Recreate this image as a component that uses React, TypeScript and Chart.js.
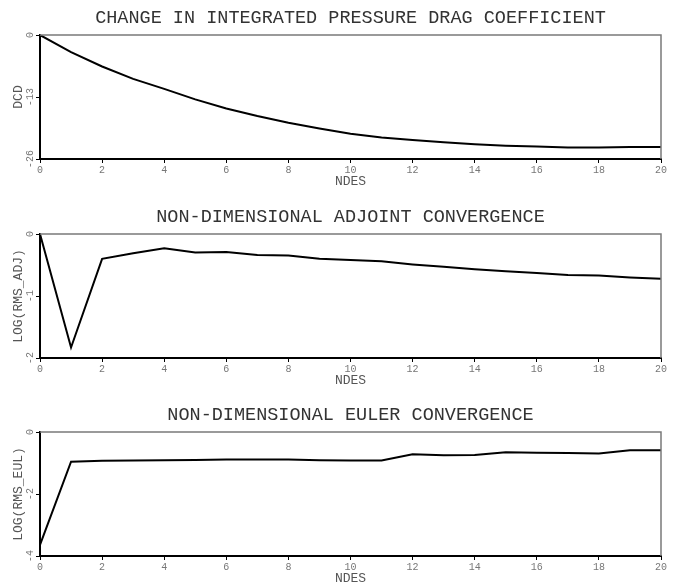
import React, { useEffect, useRef } from "react";
import { Chart, registerables } from "chart.js";

Chart.register(...registerables);

// ---- data ----
const NDES = [0, 1, 2, 3, 4, 5, 6, 7, 8, 9, 10, 11, 12, 13, 14, 15, 16, 17, 18, 19, 20];

const DCD = [0, -3.6, -6.6, -9.2, -11.3, -13.5, -15.4, -17.0, -18.4, -19.6, -20.7, -21.5, -22.0, -22.5, -22.9, -23.2, -23.4, -23.6, -23.6, -23.5, -23.5];

const RMS_ADJ = [0, -1.83, -0.40, -0.31, -0.23, -0.30, -0.29, -0.34, -0.345, -0.40, -0.42, -0.44, -0.49, -0.53, -0.57, -0.60, -0.63, -0.66, -0.67, -0.70, -0.72];

const RMS_EUL = [-3.64, -0.96, -0.93, -0.92, -0.91, -0.90, -0.89, -0.89, -0.89, -0.91, -0.92, -0.92, -0.72, -0.75, -0.74, -0.65, -0.67, -0.68, -0.69, -0.59, -0.59];

const TITLES = [
  "CHANGE IN INTEGRATED PRESSURE DRAG COEFFICIENT",
  "NON-DIMENSIONAL ADJOINT CONVERGENCE",
  "NON-DIMENSIONAL EULER CONVERGENCE",
];
const Y_TITLES = ["DCD", "LOG(RMS_ADJ)", "LOG(RMS_EUL)"];
const X_TITLE = "NDES";
const Y_RANGES = [
  { min: -26, max: 0, step: 13 },
  { min: -2, max: 0, step: 1 },
  { min: -4, max: 0, step: 2 },
];
const X_RANGE = { min: 0, max: 20, step: 2 };

const MONO = '"Liberation Mono", "DejaVu Sans Mono", monospace';

const frameAndLabels = {
  id: "frameAndLabels",
  afterDraw(chart: any) {
    const { ctx, chartArea } = chart;
    const { left, right, top, bottom } = chartArea;
    const y = chart.scales.y;
    ctx.save();
    ctx.strokeStyle = "#7a7a7a";
    ctx.lineWidth = 1.5;
    ctx.beginPath();
    ctx.moveTo(left, top);
    ctx.lineTo(right, top);
    ctx.lineTo(right, bottom);
    ctx.stroke();
    ctx.fillStyle = "#777";
    ctx.font = `10px ${MONO}`;
    ctx.textAlign = "center";
    ctx.textBaseline = "middle";
    y.ticks.forEach((t: any) => {
      const py = y.getPixelForValue(t.value);
      ctx.save();
      ctx.translate(left - 10, py);
      ctx.rotate(-Math.PI / 2);
      ctx.fillText(String(t.value), 0, 0);
      ctx.restore();
    });
    ctx.restore();
  },
};

function Panel({ idx, values, top }: { idx: number; values: number[]; top: number }) {
  const ref = useRef<HTMLCanvasElement | null>(null);
  useEffect(() => {
    if (!ref.current) return;
    const yr = Y_RANGES[idx];
    const chart = new Chart(ref.current, {
      type: "line",
      data: {
        datasets: [
          {
            data: NDES.map((x, i) => ({ x, y: values[i] })),
            borderColor: "#000",
            borderWidth: 2,
            pointRadius: 0,
            tension: 0,
            fill: false,
          },
        ],
      },
      options: {
        animation: false,
        responsive: false,
        events: [],
        layout: { padding: { top: 0, right: 14, bottom: 0, left: 0 } },
        plugins: {
          legend: { display: false },
          tooltip: { enabled: false },
          title: {
            display: true,
            text: TITLES[idx],
            fullSize: false,
            color: "#333",
            font: { family: MONO, size: 18.5, weight: "normal", lineHeight: 1.2 },
            padding: { top: 6.9, bottom: 5.9 },
          },
        },
        scales: {
          x: {
            type: "linear",
            min: X_RANGE.min,
            max: X_RANGE.max,
            afterFit: (s: any) => {
              s.height = 39;
            },
            ticks: {
              stepSize: X_RANGE.step,
              color: "#777",
              font: { family: MONO, size: 10 },
              padding: 1,
              maxRotation: 0,
              autoSkip: false,
            },
            grid: { display: true, drawOnChartArea: false, drawTicks: true, tickLength: 4, color: "#000" },
            border: { display: true, color: "#000", width: 2 },
            title: {
              display: true,
              text: X_TITLE,
              color: "#555",
              font: { family: MONO, size: 13, lineHeight: 1.2 },
              padding: { top: 0, bottom: 8.2 },
            },
          },
          y: {
            type: "linear",
            min: yr.min,
            max: yr.max,
            afterFit: (s: any) => {
              s.width = 40;
            },
            ticks: { display: false, stepSize: yr.step },
            grid: { display: true, drawOnChartArea: false, drawTicks: true, tickLength: 4, color: "#000" },
            border: { display: true, color: "#000", width: 2 },
            title: {
              display: true,
              text: Y_TITLES[idx],
              color: "#555",
              font: { family: MONO, size: 13, lineHeight: 1.2 },
              padding: { top: 11, bottom: 0 },
            },
          },
        },
      } as any,
      plugins: [frameAndLabels],
    });
    return () => chart.destroy();
  }, []);
  return (
    <canvas
      ref={ref}
      width={675}
      height={198}
      style={{ position: "absolute", left: 0, top, width: 675, height: 198 }}
    />
  );
}

export default function App() {
  return (
    <div
      style={{
        position: "absolute",
        left: 0,
        top: 0,
        width: 675,
        height: 583,
        overflow: "hidden",
        background: "#fff",
      }}
    >
      <Panel idx={0} values={DCD} top={0} />
      <Panel idx={1} values={RMS_ADJ} top={199} />
      <Panel idx={2} values={RMS_EUL} top={397} />
    </div>
  );
}
